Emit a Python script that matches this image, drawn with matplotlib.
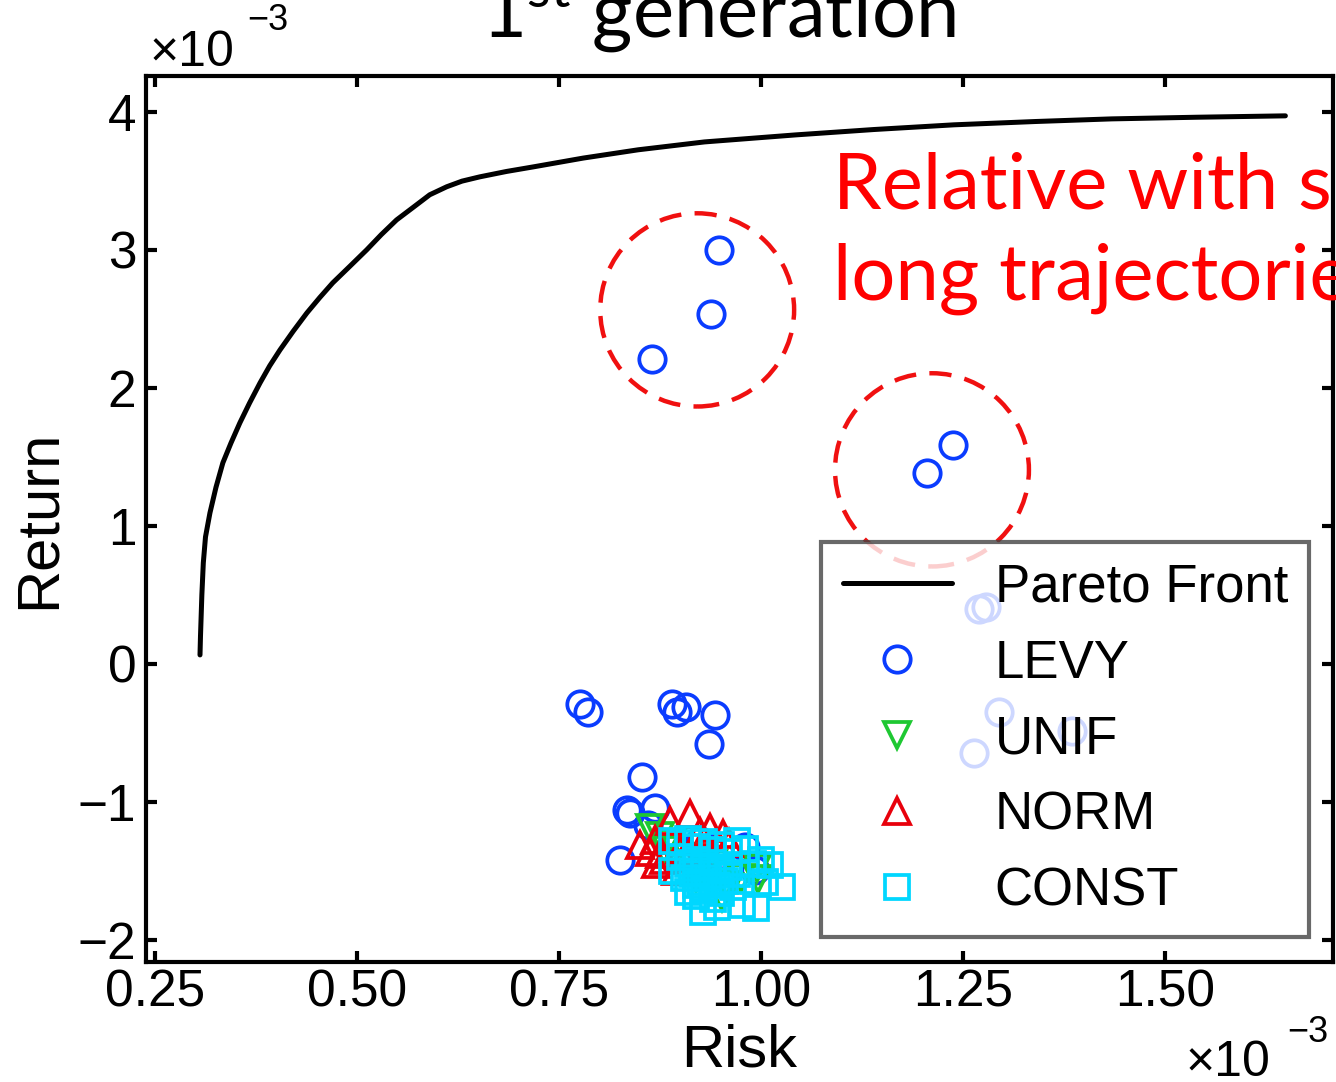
import numpy as np
import matplotlib.pyplot as plt
from matplotlib.patches import Ellipse
from matplotlib.ticker import FormatStrFormatter, FixedLocator

plt.rcParams['font.family'] = ['Liberation Sans', 'DejaVu Sans']

# values in units of 1e-3
pareto_risk = [0.3057, 0.3063, 0.308, 0.3098, 0.3125, 0.318, 0.3255, 0.334, 0.344, 0.355,
               0.367, 0.380, 0.392, 0.4047, 0.421, 0.438, 0.454, 0.470, 0.491, 0.512,
               0.530, 0.549, 0.570, 0.590, 0.611, 0.630, 0.652, 0.685, 0.718, 0.78,
               0.848, 0.93, 1.043, 1.14, 1.239, 1.34, 1.434, 1.54, 1.649]
pareto_ret = [0.065, 0.20, 0.50, 0.732, 0.92, 1.094, 1.28, 1.457, 1.60, 1.746,
              1.89, 2.036, 2.16, 2.275, 2.41, 2.543, 2.655, 2.761, 2.88, 3.0,
              3.11, 3.217, 3.31, 3.399, 3.457, 3.498, 3.529, 3.568, 3.601, 3.665,
              3.725, 3.782, 3.833, 3.872, 3.906, 3.930, 3.949, 3.961, 3.971]

levy_risk = [0.948, 0.938, 0.865, 1.2376, 1.2055, 1.270, 1.278, 1.2946, 1.385, 1.2636,
             0.776, 0.786, 0.890, 0.896, 0.907, 0.943, 0.936, 0.853, 0.834, 0.838,
             0.869, 0.826, 0.86, 0.98, 0.993, 0.925, 0.95]
levy_ret = [3.0, 2.536, 2.21, 1.587, 1.384, 0.399, 0.413, -0.348, -0.486, -0.645,
            -0.29, -0.348, -0.29, -0.348, -0.312, -0.37, -0.58, -0.819, -1.058, -1.08,
            -1.043, -1.42, -1.167, -1.33, -1.49, -1.28, -1.57]

unif_risk = [0.863, 0.875, 0.89, 0.91, 0.93, 0.952, 0.96, 0.975, 0.996, 0.995, 0.92, 0.94, 0.955, 0.88]
unif_ret = [-1.19, -1.25, -1.30, -1.40, -1.50, -1.69, -1.62, -1.55, -1.56, -1.48, -1.55, -1.45, -1.60, -1.35]

norm_risk = [0.850, 0.863, 0.869, 0.875, 0.887, 0.912, 0.90, 0.937, 0.925, 0.953, 0.96,
             0.88, 0.905, 0.93, 0.895, 0.87]
norm_ret = [-1.31, -1.36, -1.275, -1.38, -1.14, -1.09, -1.35, -1.19, -1.22, -1.23, -1.30,
            -1.42, -1.40, -1.45, -1.50, -1.45]

const_risk = [0.89, 0.90, 0.91, 0.92, 0.93, 0.94, 0.95, 0.96, 0.97, 0.98,
              0.90, 0.91, 0.92, 0.93, 0.94, 0.95, 0.96, 0.97,
              0.89, 0.905, 0.915, 0.925, 0.935, 0.945, 0.955, 0.965,
              0.91, 0.92, 0.93, 0.94, 0.95,
              0.99, 1.00, 1.011, 1.026, 1.005, 0.994, 0.977, 0.928, 0.945, 0.92]
const_ret = [-1.28, -1.30, -1.27, -1.33, -1.29, -1.35, -1.31, -1.36, -1.28, -1.34,
             -1.40, -1.45, -1.42, -1.48, -1.44, -1.50, -1.47, -1.52,
             -1.50, -1.55, -1.52, -1.58, -1.55, -1.60, -1.57, -1.62,
             -1.65, -1.68, -1.64, -1.70, -1.66,
             -1.45, -1.42, -1.46, -1.62, -1.58, -1.77, -1.75, -1.80, -1.76, -1.60]

# dashed circles around the long-trajectory points (center x, center y)
circ_x = [0.921, 1.2116]
circ_y = [2.565, 1.406]

fig = plt.figure(figsize=(13.36, 10.82), dpi=100)
ax = fig.add_axes([0.1093, 0.1109, 0.8885, 0.8189])

ax.plot(pareto_risk, pareto_ret, color='black', lw=3.6, label='Pareto Front', zorder=3,
        solid_capstyle='round', solid_joinstyle='round')
mk = dict(ls='none', mfc='none', ms=19, mew=2.7)
ax.plot(levy_risk, levy_ret, marker='o', mec='#0a3cff', label='LEVY', **mk)
ax.plot(unif_risk, unif_ret, marker='v', mec='#1ec832', label='UNIF', **mk)
ax.plot(norm_risk, norm_ret, marker='^', mec='#e8000b', label='NORM', **mk)
ax.plot(const_risk, const_ret, marker='s', mec='#00d7ff', label='CONST', **dict(mk, ms=17))

for cx, cy in zip(circ_x, circ_y):
    ax.add_patch(Ellipse((cx, cy), 0.24, 1.40, fill=False, ec='#f01010', lw=3.2,
                         ls=(0, (5, 3)), zorder=4))

ax.text(1.089, 3.30, 'Relative with s', color='red', fontsize=56, family='Lato')
ax.text(1.089, 2.638, 'long trajectorie', color='red', fontsize=56, family='Lato')

ax.set_xlim(0.2389, 1.708)
ax.set_ylim(-2.16, 4.26)
ax.xaxis.set_major_locator(FixedLocator([0.25, 0.5, 0.75, 1.0, 1.25, 1.5]))
ax.xaxis.set_major_formatter(FormatStrFormatter('%.2f'))
ax.yaxis.set_major_locator(FixedLocator([-2, -1, 0, 1, 2, 3, 4]))
ax.tick_params(direction='in', length=8, width=3, labelsize=37, top=True, right=True)
ax.tick_params(axis='x', pad=5)
ax.tick_params(axis='y', pad=7)
for s in ax.spines.values():
    s.set_linewidth(3)

ax.set_xlabel('Risk', fontsize=43, labelpad=4)
ax.set_ylabel('Return', fontsize=43, labelpad=8)

leg = ax.legend(loc='lower right', bbox_to_anchor=(0.9798, 0.028), fontsize=38,
                fancybox=False, edgecolor='#444444', framealpha=0.8,
                handlelength=2.08, handletextpad=0.8, labelspacing=0.49,
                borderpad=0.4, borderaxespad=0)
leg.get_frame().set_linewidth(3)

# multiplier labels
fig.text(150 / 1336, 1 - 66 / 1082, '×10', fontsize=36, va='baseline')
fig.text(247 / 1336, 1 - 30 / 1082, '−3', fontsize=26, va='baseline')
fig.text(1186 / 1336, 1 - 1076 / 1082, '×10', fontsize=36, va='baseline')
fig.text(1287 / 1336, 1 - 1042 / 1082, '−3', fontsize=26, va='baseline')

fig.text(0.538, 1 - 38 / 1082, r'1$^{\mathregular{st}}$ generation', fontsize=56,
         family='Lato', ha='center', va='baseline')

fig.savefig('out.png', dpi=100)
